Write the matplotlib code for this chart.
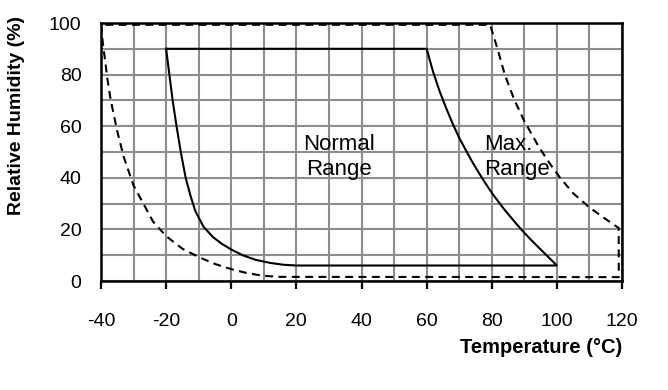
import matplotlib
matplotlib.use('Agg')
import matplotlib.pyplot as plt
import numpy as np

plt.rcParams['font.family'] = ['Liberation Sans', 'DejaVu Sans']
plt.rcParams['axes.unicode_minus'] = False

# Normal range boundary (solid)
normal_t = [-20, -19.5, -19, -18, -16.8, -15.5, -14, -12.5, -11, -8.5, -5.6, -3, 0, 3.5, 7.5, 12, 16, 20,
            100, 98, 96, 94, 92, 90, 88, 86, 84, 82, 80, 78, 76, 74, 72, 70, 68, 66, 64, 62, 60, -20]
normal_rh = [90, 85, 80, 70, 60, 50, 40, 33, 27, 21, 17, 14.5, 12.2, 10, 8.2, 7, 6.3, 6,
             6, 8.5, 11, 13.5, 16, 18.7, 21.5, 24.5, 27.5, 30.8, 34.2, 38, 42, 46.2, 50.8, 55.5, 61, 67, 73.5, 81, 90, 90]

# Max range boundary (dashed)
max_t = [-40, -39.5, -39, -38, -37, -35, -33, -30, -27, -24, -20, -15, -10, -5, 0, 5, 10, 15,
         119, 119, 115, 110, 105, 101, 97, 94, 90, 87, 84, 82, 79.5, -40]
max_rh = [99.3, 93, 88, 78, 70, 58, 48, 37, 30, 23, 17.4, 12.5, 9.3, 6.6, 4.6, 3.0, 2.0, 1.6,
          1.5, 20.5, 24, 28.5, 34, 40, 47, 53, 62, 70, 80, 89, 99.3, 99.3]

x_ticks = [-40, -20, 0, 20, 40, 60, 80, 100, 120]
y_ticks = [0, 20, 40, 60, 80, 100]

fig = plt.figure(figsize=(6.68, 3.9), dpi=100)
ax = fig.add_axes([101 / 668, 1 - 281 / 390, 521 / 668, 258 / 390])

ax.plot(max_t, max_rh, color='black', lw=1.5, ls=(0, (3.8, 2.6)), zorder=3)
ax.plot(normal_t, normal_rh, color='black', lw=1.5, zorder=3)

ax.set_xlim(-40, 120)
ax.set_ylim(0, 100)
ax.set_xticks(x_ticks)
ax.set_yticks(y_ticks)
ax.set_xticks(np.arange(-40, 121, 10), minor=True)
ax.set_yticks(np.arange(0, 101, 10), minor=True)
ax.grid(True, which='both', color='#8c8c8c', lw=1.5, zorder=1)
ax.set_axisbelow(True)

ax.tick_params(axis='x', which='major', direction='out', length=6, width=1.6, pad=17, labelsize=14)
ax.tick_params(axis='x', which='minor', length=0)
ax.tick_params(axis='y', which='both', length=0, pad=14, labelsize=14)

for s in ax.spines.values():
    s.set_linewidth(1.8)
    s.set_color('black')

ax.set_xlabel('Temperature (°C)', fontsize=14.5, fontweight='bold')
ax.xaxis.set_label_coords(1.0, -0.22)
ax.xaxis.label.set_horizontalalignment('right')
ax.set_ylabel('Relative Humidity (%)', fontsize=14, fontweight='bold')
ax.yaxis.set_label_coords(-0.145, 0.64)

ax.text(33, 48, 'Normal\nRange', ha='center', va='center', fontsize=16, linespacing=1.25)
ax.text(77.6, 48, 'Max.\nRange', ha='left', va='center', fontsize=16, linespacing=1.25)

fig.savefig('out.png', dpi=100)
